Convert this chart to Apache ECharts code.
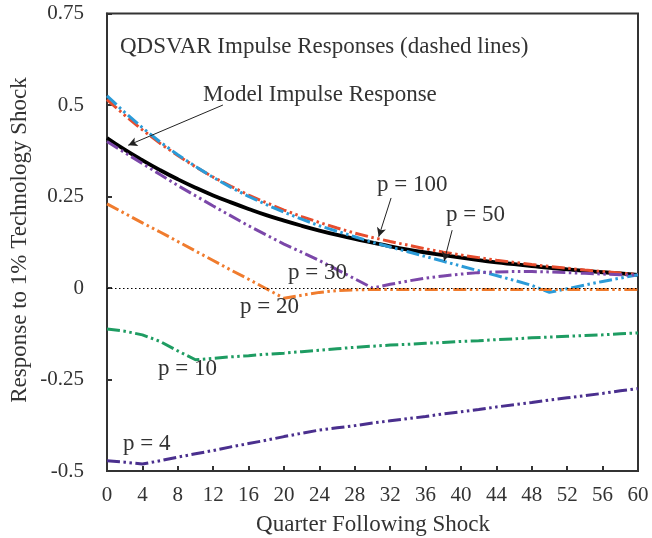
<!DOCTYPE html>
<html>
<head>
<meta charset="utf-8">
<script src="https://cdn.jsdelivr.net/npm/echarts@6/dist/echarts.min.js"></script>
<style>
  html, body { margin: 0; padding: 0; background: #fff; }
  #chart { width: 652px; height: 538px; }
</style>
</head>
<body>
<div id="chart"></div>
<script>
// quarters after the shock (every 2nd quarter)
var quarters = [0,2,4,6,8,10,12,14,16,18,20,22,24,26,28,30,32,34,36,38,40,42,44,46,48,50,52,54,56,58,60];

// model impulse response (solid black)
var model = [0.410,0.378,0.349,0.322,0.297,0.274,0.253,0.234,0.216,0.199,0.184,0.170,0.157,0.145,0.134,0.124,0.114,0.105,0.097,0.090,0.083,0.076,0.070,0.065,0.060,0.055,0.051,0.047,0.043,0.040,0.036];

// QDSVAR impulse responses for each truncation p
var p100 = [0.515,0.472,0.432,0.395,0.362,0.331,0.303,0.278,0.254,0.233,0.213,0.195,0.179,0.164,0.150,0.138,0.127,0.117,0.107,0.098,0.090,0.083,0.076,0.070,0.064,0.059,0.054,0.049,0.045,0.041,0.037];
var p50  = [0.525,0.480,0.438,0.399,0.364,0.332,0.302,0.275,0.250,0.228,0.207,0.188,0.170,0.155,0.140,0.125,0.112,0.099,0.086,0.073,0.060,0.047,0.034,0.021,0.007,-0.012,-0.002,0.008,0.018,0.027,0.036];
var p30  = [0.400,0.370,0.340,0.310,0.280,0.252,0.224,0.197,0.170,0.145,0.120,0.098,0.075,0.050,0.025,0.000,0.010,0.019,0.027,0.033,0.038,0.042,0.044,0.045,0.045,0.044,0.042,0.040,0.038,0.036,0.035];
var p20  = [0.230,0.204,0.178,0.153,0.127,0.101,0.075,0.049,0.024,-0.002,-0.028,-0.020,-0.012,-0.007,-0.005,-0.004,-0.004,-0.004,-0.004,-0.004,-0.004,-0.004,-0.004,-0.004,-0.004,-0.004,-0.004,-0.004,-0.004,-0.004,-0.004];
var p10  = [-0.112,-0.118,-0.128,-0.146,-0.172,-0.196,-0.192,-0.188,-0.185,-0.181,-0.178,-0.174,-0.170,-0.166,-0.162,-0.159,-0.156,-0.154,-0.151,-0.149,-0.146,-0.144,-0.141,-0.139,-0.136,-0.134,-0.132,-0.130,-0.128,-0.125,-0.123];
var p4   = [-0.472,-0.476,-0.481,-0.472,-0.462,-0.453,-0.444,-0.434,-0.425,-0.416,-0.406,-0.397,-0.388,-0.382,-0.376,-0.369,-0.363,-0.357,-0.351,-0.344,-0.338,-0.332,-0.325,-0.319,-0.313,-0.306,-0.300,-0.294,-0.288,-0.281,-0.275];

var seriesNames = ['p = 100','p = 50','p = 30','p = 20','p = 10','p = 4'];
var seriesVals = [p100, p50, p30, p20, p10, p4];
var seriesColors = ['#e64d2e','#2b9bd8','#7b47a9','#f07c2e','#1e9c62','#4a2f8e'];

var FONT = '"Liberation Serif", "Times New Roman", serif';
var dashDotDot = [13, 3.5, 2.5, 3.5, 2.5, 3.5];

function pairs(vals) {
    var out = [];
    for (var i = 0; i < quarters.length; i++) {
        out.push([quarters[i], vals[i]]);
    }
    return out;
}

function arrow(from, to) {
    return [{coord: from}, {coord: to}];
}

var series = [];
series.push({
    name: 'Model',
    type: 'line',
    data: pairs(model),
    showSymbol: false,
    smooth: true,
    lineStyle: {color: '#000', width: 3.8},
    z: 2,
    markLine: {
        silent: true,
        symbol: 'none',
        label: {show: false},
        lineStyle: {color: '#000', width: 1.2, type: [1.5, 2.5]},
        data: [{yAxis: 0}]
    }
});
for (var i = 0; i < seriesVals.length; i++) {
    series.push({
        name: seriesNames[i],
        type: 'line',
        data: pairs(seriesVals[i]),
        showSymbol: false,
        smooth: false,
        lineStyle: {color: seriesColors[i], width: 3, type: dashDotDot},
        z: 3
    });
}
// annotation arrows
series.push({
    type: 'line',
    data: [],
    markLine: {
        silent: true,
        symbol: ['none', 'arrow'],
        symbolSize: [7, 9],
        label: {show: false},
        lineStyle: {color: '#222', width: 1, type: 'solid'},
        data: [
            arrow([13.1, 0.50], [2.4, 0.39]),
            arrow([32.1, 0.246], [30.7, 0.14]),
            arrow([39.0, 0.158], [38.1, 0.074])
        ]
    }
});

var txt = function(x, y, s, extra) {
    var o = {type: 'text', x: x, y: y, style: {text: s, fill: '#333', font: '23px ' + FONT, textVerticalAlign: 'middle'}, z: 10};
    if (extra) { for (var k in extra) o.style[k] = extra[k]; }
    return o;
};

var chart = echarts.init(document.getElementById('chart'));
chart.setOption({
    animation: false,
    backgroundColor: '#fff',
    grid: {
        left: 107, right: 14, top: 13.5, bottom: 67,
        show: true, borderColor: '#333', borderWidth: 2
    },
    xAxis: {
        type: 'value', min: 0, max: 60, interval: 4,
        axisLine: {show: true, onZero: false, lineStyle: {color: '#333', width: 2}},
        axisTick: {show: true, inside: true, length: 5, lineStyle: {color: '#333', width: 2}},
        axisLabel: {color: '#333', fontFamily: FONT, fontSize: 21, margin: 14},
        splitLine: {show: false}
    },
    yAxis: {
        type: 'value', min: -0.5, max: 0.75, interval: 0.25,
        axisLine: {show: true, onZero: false, lineStyle: {color: '#333', width: 2}},
        axisTick: {show: true, inside: true, length: 5, lineStyle: {color: '#333', width: 2}},
        axisLabel: {color: '#333', fontFamily: FONT, fontSize: 21, margin: 23, padding: [7, 0, 0, 0]},
        splitLine: {show: false}
    },
    graphic: [
        txt(120, 47, 'QDSVAR Impulse Responses (dashed lines)'),
        txt(203, 95, 'Model Impulse Response'),
        txt(377, 185, 'p = 100'),
        txt(446, 215, 'p = 50'),
        txt(288, 273, 'p = 30'),
        txt(240, 307, 'p = 20'),
        txt(158, 369, 'p = 10'),
        txt(123, 444, 'p = 4'),
        txt(373, 525, 'Quarter Following Shock', {textAlign: 'center'}),
        {
            type: 'text', x: 20, y: 240, rotation: Math.PI / 2, z: 10,
            style: {text: 'Response to 1% Technology Shock', fill: '#333', font: '23px ' + FONT,
                    textAlign: 'center', textVerticalAlign: 'middle'}
        }
    ],
    series: series
});
</script>
</body>
</html>
